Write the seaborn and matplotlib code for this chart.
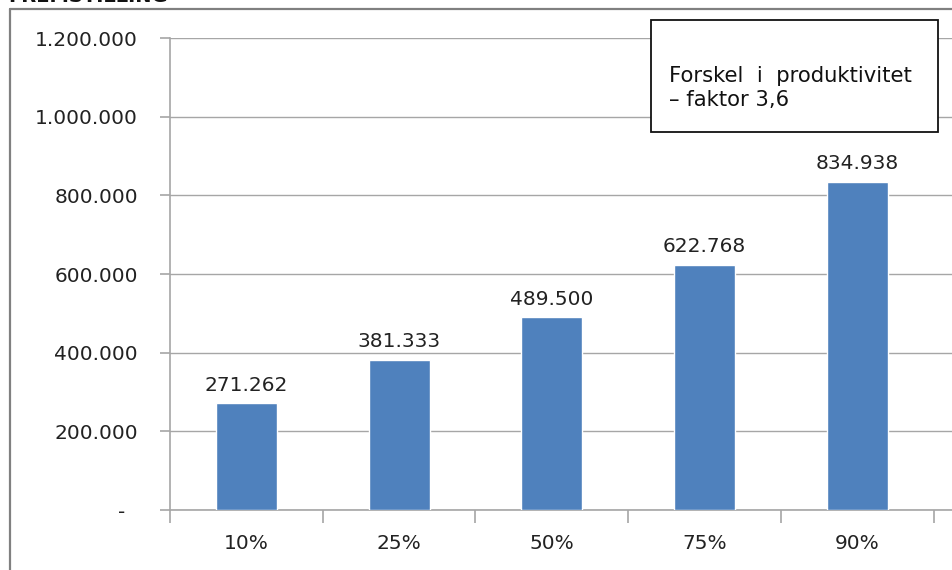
import matplotlib
matplotlib.use("Agg")
import matplotlib.pyplot as plt
import seaborn as sns
import pandas as pd
from matplotlib.ticker import FuncFormatter, MultipleLocator
from matplotlib.patches import Rectangle

categories = ["10%", "25%", "50%", "75%", "90%"]
values = [271262, 381333, 489500, 622768, 834938]
title_text = "FREMSTILLING"
box_text = "Forskel  i  produktivitet\n– faktor 3,6"

sns.set_style("white")
plt.rcParams['font.family'] = ['DejaVu Sans']

df = pd.DataFrame({"cat": categories, "val": values})

W, H = 952, 570
fig = plt.figure(figsize=(W / 100, H / 100), dpi=100)
ax = fig.add_axes([170 / W, 1 - 510 / H, (952 - 170) / W, (510 - 38) / H])

sns.barplot(data=df, x="cat", y="val", color="#4F81BD", width=0.4, ax=ax,
            saturation=1, zorder=3)

def fmt(v):
    if v == 0:
        return "-  "
    return f"{int(round(v)):,}".replace(",", ".")

ax.set_ylim(0, 1200000)
ax.set_xlim(-0.5, 4.5 + 0.12)
ax.yaxis.set_major_locator(MultipleLocator(200000))
ax.yaxis.set_major_formatter(FuncFormatter(lambda v, p: fmt(v)))
ax.grid(axis="y", color="#A6A6A6", linewidth=1.0, zorder=0)
ax.set_xlabel("")
ax.set_ylabel("")
for s in ["top", "right"]:
    ax.spines[s].set_visible(False)
for s in ["left", "bottom"]:
    ax.spines[s].set_color("#A6A6A6")
    ax.spines[s].set_linewidth(1.2)
ax.tick_params(axis="y", labelsize=14.5, colors="#A6A6A6", labelcolor="#222222",
               length=7, width=1.2, left=True, pad=16)
ax.tick_params(axis="x", labelsize=14.5, labelcolor="#222222", bottom=False, pad=14)
ax.set_xticks([i - 0.5 for i in range(6)], minor=True)
ax.tick_params(axis="x", which="minor", bottom=True, length=9, width=1.2, colors="#A6A6A6")

for i, v in enumerate(values):
    ax.text(i, v + 22000, fmt(v), ha="center", va="bottom", fontsize=14.5, color="#222222")

# text box
fig.patches.append(Rectangle((651 / W, 1 - 132 / H), (938 - 651) / W, (132 - 20) / H,
                             transform=fig.transFigure, fill=True, facecolor="white",
                             edgecolor="#111111", linewidth=1.3, zorder=1))
fig.text(669 / W, 1 - 88 / H, box_text, ha="left", va="center", fontsize=15.2,
         color="#111111", linespacing=1.25)
# outer frame
fig.add_artist(plt.Line2D([10 / W, 10 / W], [0, 1 - 9 / H], transform=fig.transFigure,
                          color="#808080", linewidth=1.6))
fig.add_artist(plt.Line2D([10 / W, 1], [1 - 9 / H, 1 - 9 / H], transform=fig.transFigure,
                          color="#808080", linewidth=1.6))
fig.text(8 / W, 1 + 4 / H, title_text, ha="left", va="center", fontsize=14,
         fontweight="bold", color="#111111")

fig.savefig("out.png", dpi=100)
